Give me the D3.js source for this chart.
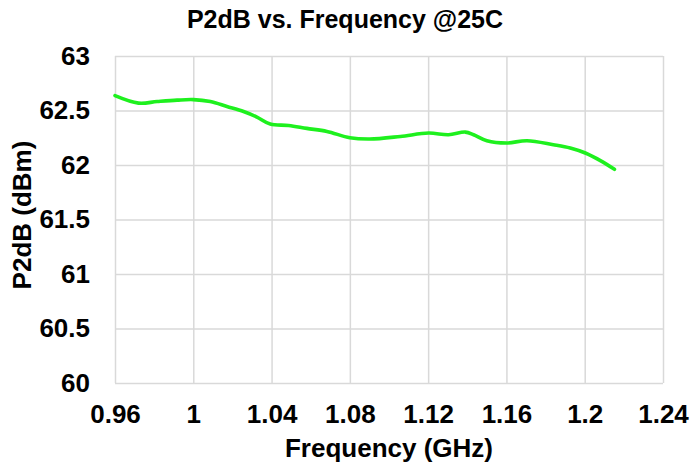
<!DOCTYPE html>
<html>
<head>
<meta charset="utf-8">
<script src="https://cdn.jsdelivr.net/npm/d3@7/dist/d3.min.js"></script>
<style>
  html, body { margin: 0; padding: 0; background: #fff; }
  text { font-family: "Liberation Sans", Arial, sans-serif; font-weight: bold; fill: #000; }
</style>
</head>
<body>
<svg id="chart" width="691" height="468"></svg>
<script>
// P2dB measured across the band at 25C
const freqGHz = [0.96, 0.972, 0.9815, 0.9917, 1.0, 1.0087, 1.0172, 1.0257, 1.0325, 1.0393,
                 1.0487, 1.058, 1.0683, 1.08, 1.0902, 1.1058, 1.1202, 1.1304, 1.139, 1.1432,
                 1.15, 1.16, 1.1705, 1.184, 1.1926, 1.2003, 1.208, 1.2152];
const p2dB    = [62.637, 62.568, 62.582, 62.595, 62.600, 62.582, 62.537, 62.491, 62.440, 62.376,
                 62.363, 62.336, 62.308, 62.250, 62.238, 62.262, 62.293, 62.278, 62.302, 62.278,
                 62.223, 62.202, 62.223, 62.186, 62.156, 62.110, 62.040, 61.960];
const xTicks = [0.96, 1.00, 1.04, 1.08, 1.12, 1.16, 1.20, 1.24];
const xTickLabels = ["0.96", "1", "1.04", "1.08", "1.12", "1.16", "1.2", "1.24"];
const yTicks = [60, 60.5, 61, 61.5, 62, 62.5, 63];
const yTickLabels = ["60", "60.5", "61", "61.5", "62", "62.5", "63"];

const svg = d3.select("#chart");
const margin = { left: 115, right: 28, top: 56, bottom: 85 };
const W = 691, H = 468;
const FONT = "26px";

const x = d3.scaleLinear().domain([0.96, 1.24]).range([margin.left, W - margin.right]);
const y = d3.scaleLinear().domain([60, 63]).range([H - margin.bottom, margin.top]);

const gridColor = "#d9d9d9";

// vertical gridlines
svg.append("g")
  .attr("transform", `translate(0,${y(60)})`)
  .call(d3.axisBottom(x).tickValues(xTicks).tickSize(-(y(60) - y(63))).tickFormat(""))
  .call(g => g.select(".domain").remove())
  .call(g => g.selectAll("line").attr("stroke", gridColor).attr("stroke-width", 1.5));

// horizontal gridlines
svg.append("g")
  .attr("transform", `translate(${x(0.96)},0)`)
  .call(d3.axisLeft(y).tickValues(yTicks).tickSize(-(x(1.24) - x(0.96))).tickFormat(""))
  .call(g => g.select(".domain").remove())
  .call(g => g.selectAll("line").attr("stroke", gridColor).attr("stroke-width", 1.5));

// tick labels
const xAxis = svg.append("g")
  .attr("transform", `translate(0,${y(60)})`)
  .call(d3.axisBottom(x).tickValues(xTicks).tickSize(0).tickPadding(22)
    .tickFormat((d, i) => xTickLabels[i]));
xAxis.select(".domain").remove();
xAxis.selectAll("text").style("font-size", FONT).style("font-family", "Liberation Sans, Arial, sans-serif").style("font-weight", "bold").style("fill", "#000");

const yAxis = svg.append("g")
  .attr("transform", `translate(${x(0.96)},0)`)
  .call(d3.axisLeft(y).tickValues(yTicks).tickSize(0).tickPadding(25)
    .tickFormat((d, i) => yTickLabels[i]));
yAxis.select(".domain").remove();
yAxis.selectAll("text").style("font-size", FONT).style("font-family", "Liberation Sans, Arial, sans-serif").style("font-weight", "bold").style("fill", "#000");

// data line
const line = d3.line()
  .x((d, i) => x(freqGHz[i]))
  .y(d => y(d))
  .curve(d3.curveCatmullRom.alpha(0.5));

svg.append("path")
  .datum(p2dB)
  .attr("d", line)
  .attr("fill", "none")
  .attr("stroke", "#1ef01e")
  .attr("stroke-width", 3.6)
  .attr("stroke-linecap", "round");

// titles
svg.append("text")
  .attr("x", 345).attr("y", 28)
  .attr("text-anchor", "middle")
  .style("font-size", "25px")
  .text("P2dB vs. Frequency @25C");

svg.append("text")
  .attr("x", 389).attr("y", 457)
  .attr("text-anchor", "middle")
  .style("font-size", FONT)
  .text("Frequency (GHz)");

svg.append("text")
  .attr("transform", `translate(31,215) rotate(-90)`)
  .attr("text-anchor", "middle")
  .style("font-size", FONT)
  .text("P2dB (dBm)");
</script>
</body>
</html>
